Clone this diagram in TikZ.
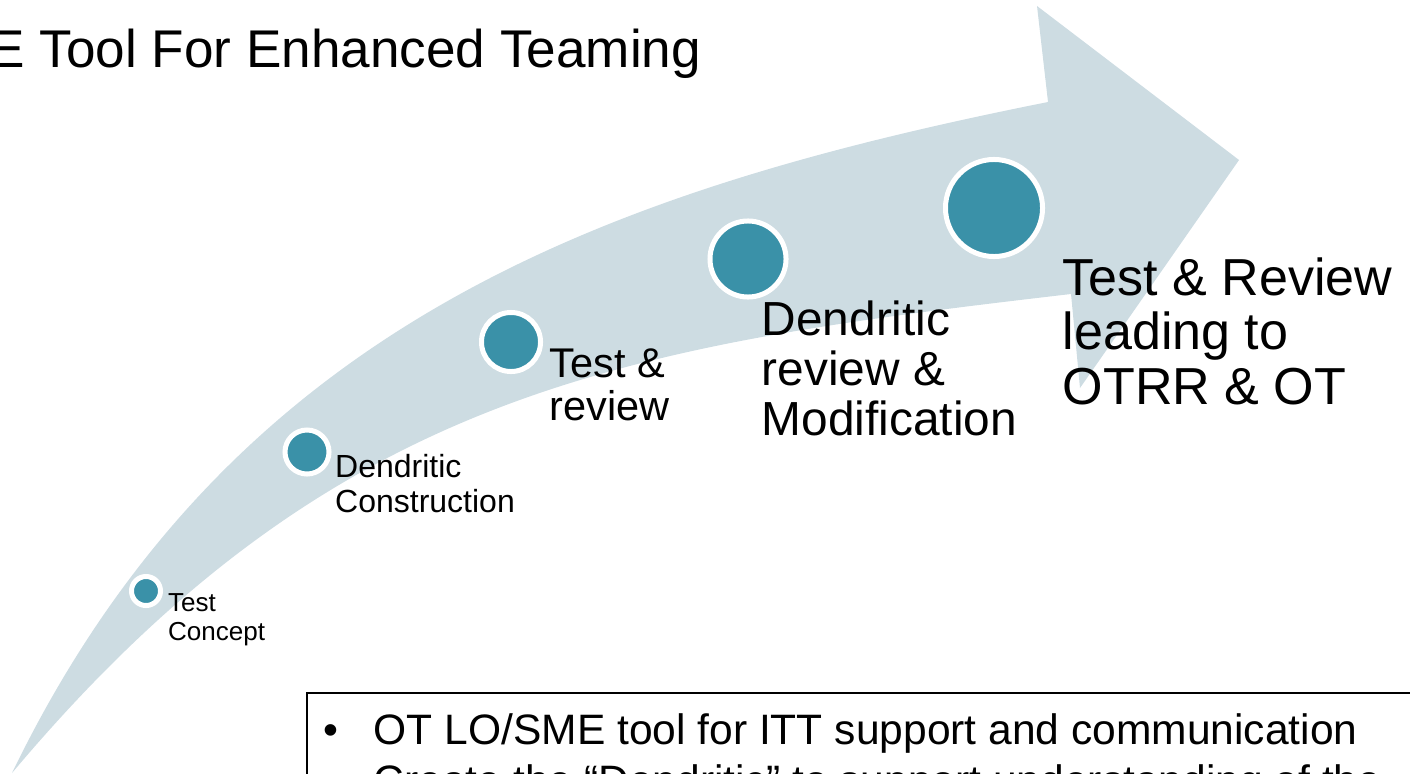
\documentclass[tikz,border=0pt]{standalone}
\usepackage{fontspec}
\setmainfont{Liberation Sans}
\definecolor{shaftgrey}{RGB}{205,220,226}
\definecolor{dotteal}{RGB}{58,145,168}
\tikzset{
  dot/.style={circle,fill=dotteal,draw=white,line width=0.05cm,inner sep=0pt},
  lbl/.style={anchor=base west,align=left,inner sep=0pt}
}

\begin{document}
\begin{tikzpicture}[x=0.01cm,y=-0.01cm]
    \useasboundingbox (0,0) rectangle (1410,773);
    \fill[shaftgrey] (12,773) .. controls (230,323) and (607,190) .. (1048,102)
      -- (1037,6) -- (1239,160) -- (1080,388) -- (1071,294)
      .. controls (624,346) and (334,390) .. (12,773) -- cycle;
    \node[lbl,font=\fontsize{15.1}{17}\selectfont] (title) at (-11,68) {E Tool For Enhanced Teaming};
    \node[dot,minimum size=0.29cm] (c1) at (146,591) {};
    \node[dot,minimum size=0.44cm] (c2) at (307,452) {};
    \node[dot,minimum size=0.59cm] (c3) at (511,342) {};
    \node[dot,minimum size=0.76cm] (c4) at (748,259) {};
    \node[dot,minimum size=0.97cm] (c5) at (994,208) {};
    \node[lbl,font=\fontsize{7.4}{8}\selectfont] (t1) at (167.5,640) {Test\\Concept};
    \node[lbl,font=\fontsize{9.1}{9.7}\selectfont] (t2) at (334.5,512) {Dendritic\\Construction};
    \node[lbl,font=\fontsize{11.8}{12.2}\selectfont] (t3) at (549,420) {Test \&\\review};
    \node[lbl,font=\fontsize{13.6}{14.2}\selectfont] (t4) at (761,435) {Dendritic\\review \&\\Modification};
    \node[lbl,font=\fontsize{14.8}{15.4}\selectfont] (t5) at (1062,404) {Test \& Review\\leading to\\OTRR \& OT};
    \draw[line width=0.025cm] (307,693) rectangle (1450,900);
    \node[lbl,font=\fontsize{12.1}{14.5}\selectfont] (notes) at (323,795)
      {\makebox[0.5cm][l]{•}OT LO/SME tool for ITT support and communication\\
       \makebox[0.5cm][l]{•}Create the “Dendritic” to support understanding of the};
\end{tikzpicture}
\end{document}
